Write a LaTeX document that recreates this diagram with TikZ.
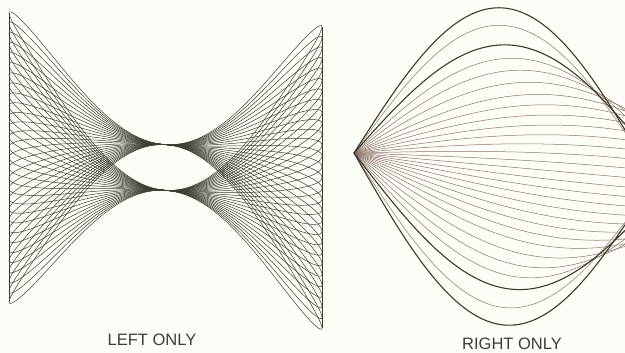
\documentclass[tikz,border=0pt]{standalone}
\usepackage{fontspec}
\setmainfont{Liberation Sans}
\newfontfamily\labfont{Liberation Sans}
\definecolor{bg}{RGB}{253,253,248}
\definecolor{lcol}{RGB}{58,62,52}
\definecolor{rthinc}{RGB}{142,114,104}
\definecolor{rdark}{RGB}{60,56,46}
\definecolor{txt}{RGB}{62,60,56}
\tikzset{
  lline/.style={draw=lcol, line width=0.5pt},
  rthin/.style={draw=rthinc, line width=0.5pt},
  rthick/.style={draw=rdark, line width=1.1pt},
  lab/.style={font=\labfont\fontsize{16.5}{18}\selectfont, text=txt, inner sep=0pt}
}
\begin{document}
\begin{tikzpicture}[x=1pt,y=-1pt]
\fill[bg] (0,0) rectangle (625,353);
\useasboundingbox (0,0) rectangle (625,353);
% ---- left figure: frame edges
\coordinate (tl) at (9,13);
\coordinate (bl) at (9,302);
\coordinate (tr) at (322,27);
\coordinate (br) at (322,328);
\draw[lline] (tl) -- (bl);
\draw[lline] (tr) -- (br);
% ---- left figure: loops
\foreach \m in {-14,...,14}{
  \draw[lline] plot[domain=0:360, samples=145, smooth, variable=\t]
   ({165.5-156.5*cos(\t)},
    {167.5-10*cos(\t)-(147.5-3*cos(\t))*((\m/14)*(-cos(\t))*abs(cos(\t))*(1.35-0.35*cos(\t)*cos(\t))+0.155*sin(\t))});
}
% ---- right figure
\coordinate (P) at (354,153);
\foreach \s in {0,0.06,-0.06,0.12,-0.12,0.18,-0.18,0.24,-0.24,0.30,-0.30,0.36,-0.36,0.42,-0.42,0.48,-0.48,0.55,-0.55,0.62,-0.62,0.69,-0.69,0.89,-0.89}{
  \draw[rthin] plot[domain=0:271, samples=70, smooth, variable=\d]
   ({354+\d},{153+0.09*\d-\s*158.5*sin(\d/(150+120*(1-\s*\s)*(1-\s*\s)*(1-\s*\s))*90)});
}
\foreach \s in {1,-1,0.77,-0.77}{
  \draw[rthick] plot[domain=0:271, samples=70, smooth, variable=\d]
   ({354+\d},{153+0.09*\d-\s*158.5*sin(\d/(150+120*(1-\s*\s)*(1-\s*\s)*(1-\s*\s))*90)});
}
% ---- labels
\node[lab] (lt) at (152,340) {LEFT ONLY};
\node[lab] (rt) at (512,344) {RIGHT ONLY};
\end{tikzpicture}
\end{document}
